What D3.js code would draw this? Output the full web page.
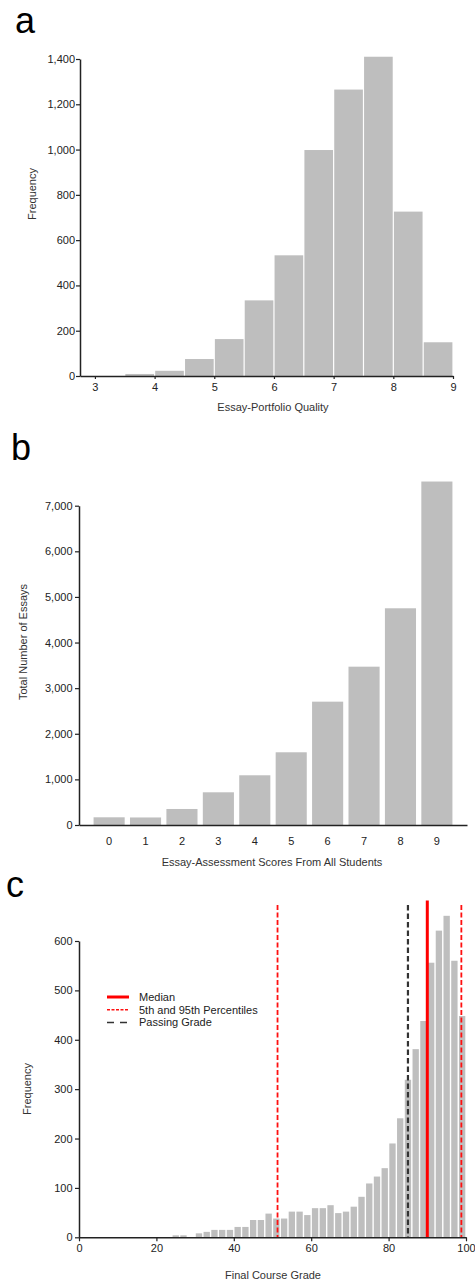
<!DOCTYPE html>
<html>
<head>
<meta charset="utf-8">
<script src="https://cdn.jsdelivr.net/npm/d3@7"></script>
<style>
  body { margin: 0; background: #fff; }
  svg { display: block; font-family: "Liberation Sans", Arial, sans-serif; }
  .tick text { fill: #222; }
</style>
</head>
<body>
<svg id="chart" width="475" height="1283"></svg>
<script>
// panel a - essay portfolio quality histogram (bins 0.5 wide)
const portfolioBins = [3, 3.5, 4, 4.5, 5, 5.5, 6, 6.5, 7, 7.5, 8, 8.5];
const portfolioCounts = [0, 9, 23, 75, 163, 334, 533, 998, 1265, 1410, 726, 149];
const portfolioTicksX = [3, 4, 5, 6, 7, 8, 9];
const portfolioTicksY = [0, 200, 400, 600, 800, 1000, 1200, 1400];

// panel b - essay assessment scores
const essayScores = [0, 1, 2, 3, 4, 5, 6, 7, 8, 9];
const essayCounts = [169, 165, 351, 717, 1090, 1594, 2704, 3471, 4751, 7530];
const essayTicksY = [0, 1000, 2000, 3000, 4000, 5000, 6000, 7000];

// panel c - final course grade (bins 2 wide)
const gradeBins = [24, 26, 28, 30, 32, 34, 36, 38, 40, 42, 44, 46, 48, 50, 52, 54, 56, 58, 60,
  62, 64, 66, 68, 70, 72, 74, 76, 78, 80, 82, 84, 86, 88, 90, 92, 94, 96, 98];
const gradeCounts = [4, 4, 0, 8, 11, 15, 15, 15, 21, 21, 35, 35, 48, 38, 38, 52, 52, 45, 59,
  59, 65, 49, 52, 62, 82, 109, 123, 140, 190, 241, 319, 381, 438, 556, 621, 651, 560, 448];
const gradeTicksX = [0, 20, 40, 60, 80, 100];
const gradeTicksY = [0, 100, 200, 300, 400, 500, 600];
const refLines = [
  { name: "Median", value: 90, top: 682, color: "#ff0000", width: 3, dash: null },
  { name: "5th and 95th Percentiles", value: 51.3, top: 673, color: "#ff1010", width: 1.8, dash: "5,2.5" },
  { name: "5th and 95th Percentiles", value: 98.8, top: 673, color: "#ff1010", width: 1.8, dash: "5,2.5" },
  { name: "Passing Grade", value: 85, top: 673, color: "#333333", width: 2.2, dash: "5.5,3" }
];
const legendItems = ["Median", "5th and 95th Percentiles", "Passing Grade"];

const barFill = "#bebebe";
const axisColor = "#222";
const svg = d3.select("#chart");

function styleAxis(g) {
  g.select(".domain").attr("stroke", axisColor).attr("stroke-width", 1.5);
  g.selectAll(".tick line").attr("stroke", axisColor).attr("stroke-width", 1.2);
  g.selectAll(".tick text").attr("font-size", 11);
}

function panelLabel(txt, x, y) {
  svg.append("text").attr("x", x).attr("y", y).attr("font-size", 36).attr("fill", "#000").text(txt);
}

function axisTitle(txt, x, y, rotate) {
  const t = svg.append("text").attr("font-size", 11).attr("fill", "#333").attr("text-anchor", "middle").text(txt);
  if (rotate) t.attr("transform", `translate(${x},${y}) rotate(-90)`);
  else t.attr("x", x).attr("y", y);
}

// ---------- panel a ----------
panelLabel("a", 15, 33);
const xa = d3.scaleLinear().domain([2.75, 9]).range([80, 453]);
const ya = d3.scaleLinear().domain([0, 1400]).range([376, 59]);
const ga = svg.append("g");
ga.selectAll("rect").data(portfolioBins).join("rect")
  .attr("x", (d) => xa(d) + 0.6)
  .attr("width", (d) => xa(d + 0.5) - xa(d) - 1.2)
  .attr("y", (d, i) => ya(portfolioCounts[i]))
  .attr("height", (d, i) => ya(0) - ya(portfolioCounts[i]))
  .attr("fill", barFill);
svg.append("g").attr("transform", `translate(0,${ya(0)})`)
  .call(d3.axisBottom(xa).tickValues(portfolioTicksX).tickFormat(d3.format("d")).tickSize(3).tickSizeOuter(0).tickPadding(4))
  .call(styleAxis);
svg.append("g").attr("transform", `translate(${xa(2.75)},0)`)
  .call(d3.axisLeft(ya).tickValues(portfolioTicksY).tickFormat(d3.format(",")).tickSize(4).tickSizeOuter(0).tickPadding(1))
  .call(styleAxis);
axisTitle("Essay-Portfolio Quality", 273, 411, false);
axisTitle("Frequency", 36, 194, true);

// ---------- panel b ----------
panelLabel("b", 11, 460);
const xb = d3.scaleBand().domain(essayScores).range([79, 467]).paddingInner(0.146).paddingOuter(0.4);
const yb = d3.scaleLinear().domain([0, 7000]).range([825, 505.7]);
svg.append("g").selectAll("rect").data(essayScores).join("rect")
  .attr("x", (d) => xb(d))
  .attr("width", xb.bandwidth())
  .attr("y", (d, i) => yb(essayCounts[i]))
  .attr("height", (d, i) => yb(0) - yb(essayCounts[i]))
  .attr("fill", barFill);
svg.append("g").attr("transform", `translate(0,${yb(0)})`)
  .call(d3.axisBottom(xb).tickSize(0).tickSizeOuter(0).tickPadding(12))
  .call(styleAxis);
svg.append("g").attr("transform", "translate(79,0)")
  .call(d3.axisLeft(yb).tickValues(essayTicksY).tickFormat(d3.format(",")).tickSize(4).tickSizeOuter(0).tickPadding(2.5))
  .call(styleAxis);
axisTitle("Essay-Assessment Scores From All Students", 272, 866, false);
axisTitle("Total Number of Essays", 27, 642, true);

// ---------- panel c ----------
panelLabel("c", 6, 897);
const xc = d3.scaleLinear().domain([0, 100]).range([79, 466]);
const yc = d3.scaleLinear().domain([0, 600]).range([1237.3, 941]);
svg.append("g").selectAll("rect").data(gradeBins).join("rect")
  .attr("x", (d) => xc(d) + 0.7)
  .attr("width", (d) => xc(d + 2) - xc(d) - 1.4)
  .attr("y", (d, i) => yc(gradeCounts[i]))
  .attr("height", (d, i) => yc(0) - yc(gradeCounts[i]))
  .attr("fill", barFill);
svg.append("g").selectAll("line").data(refLines).join("line")
  .attr("x1", (d) => xc(d.value)).attr("x2", (d) => xc(d.value))
  .attr("y1", (d) => yc(d.top)).attr("y2", yc(0))
  .attr("stroke", (d) => d.color)
  .attr("stroke-width", (d) => d.width)
  .attr("stroke-dasharray", (d) => d.dash);
svg.append("g").attr("transform", `translate(0,${yc(0)})`)
  .call(d3.axisBottom(xc).tickValues(gradeTicksX).tickSize(4).tickSizeOuter(0).tickPadding(3))
  .call(styleAxis);
svg.append("g").attr("transform", "translate(79,0)")
  .call(d3.axisLeft(yc).tickValues(gradeTicksY).tickSize(4).tickSizeOuter(0).tickPadding(2.5))
  .call(styleAxis);
axisTitle("Final Course Grade", 273, 1279, false);
axisTitle("Frequency", 31, 1089, true);

// legend
const legend = svg.append("g").attr("transform", "translate(107,997)");
legendItems.forEach((name, i) => {
  const ref = refLines.find((r) => r.name === name);
  const row = legend.append("g").attr("transform", `translate(0,${i * 12.7})`);
  row.append("line").attr("x1", 0).attr("x2", 22).attr("y1", 0).attr("y2", 0)
    .attr("stroke", ref.color)
    .attr("stroke-width", name === "Median" ? 3 : 1.5)
    .attr("stroke-dasharray", name === "Median" ? null : (name === "Passing Grade" ? "7,6" : "3,1.5"));
  row.append("text").attr("x", 32).attr("y", 4).attr("font-size", 11).attr("fill", "#222").text(name);
});
</script>
</body>
</html>
